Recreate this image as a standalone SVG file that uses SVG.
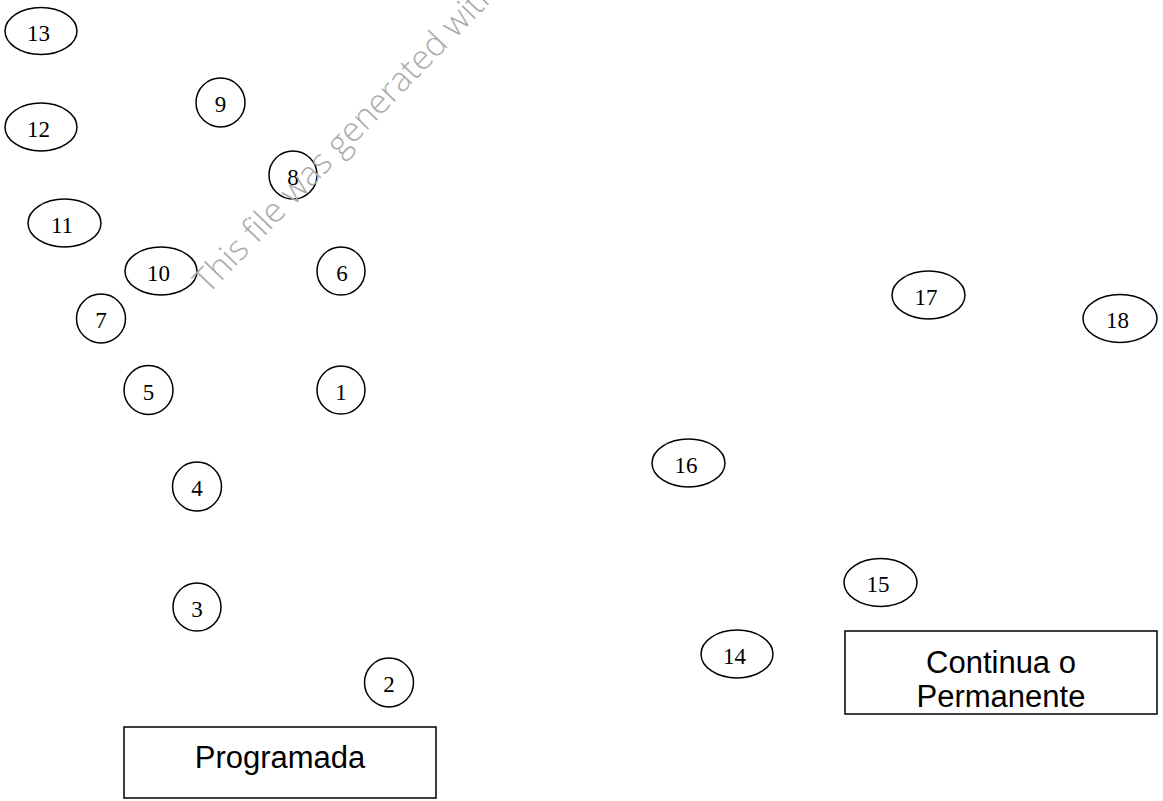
<svg xmlns="http://www.w3.org/2000/svg" width="1163" height="801" viewBox="0 0 1163 801">
<style>
.n{fill:#fff;stroke:#000;stroke-width:1.5}
.t{font-family:"Liberation Serif",serif;font-size:23px;fill:#000;text-anchor:middle}
.b{fill:#fff;stroke:#000;stroke-width:1.5}
.bt{font-family:"Liberation Sans",Arial,sans-serif;font-size:31px;fill:#000;text-anchor:middle}
.wm{font-family:"Open Sans","DejaVu Sans",sans-serif;font-size:34px;font-weight:300;fill:#ababab}
</style>
<rect width="1163" height="801" fill="#fff"/>
<g id="connectors"></g>
<g id="n13"><ellipse class="n" cx="41" cy="31" rx="36" ry="23.5"/><text class="t" x="38.5" y="40.5">13</text></g>
<g id="n12"><ellipse class="n" cx="41" cy="127" rx="36" ry="24"/><text class="t" x="38.5" y="136.5">12</text></g>
<g id="n11"><ellipse class="n" cx="64.5" cy="223" rx="36.5" ry="24"/><text class="t" x="62" y="232.5">11</text></g>
<g id="n10"><ellipse class="n" cx="161" cy="271" rx="36" ry="24"/><text class="t" x="158.5" y="280.5">10</text></g>
<g id="n9"><circle class="n" cx="220.5" cy="102.5" r="24.5"/><text class="t" x="220.5" y="112">9</text></g>
<g id="n8"><circle class="n" cx="293" cy="175" r="24"/><text class="t" x="293" y="184.5">8</text></g>
<g id="n6"><circle class="n" cx="341" cy="271" r="24"/><text class="t" x="342" y="280.5">6</text></g>
<g id="n7"><circle class="n" cx="101" cy="318.5" r="24.5"/><text class="t" x="101" y="328">7</text></g>
<g id="n5"><circle class="n" cx="148.5" cy="390" r="24.5"/><text class="t" x="148.5" y="399.5">5</text></g>
<g id="n1"><circle class="n" cx="341" cy="390" r="24"/><text class="t" x="341" y="399.5">1</text></g>
<g id="n4"><circle class="n" cx="197" cy="486.5" r="24.5"/><text class="t" x="197" y="496">4</text></g>
<g id="n3"><circle class="n" cx="197" cy="607" r="24"/><text class="t" x="197" y="616.5">3</text></g>
<g id="n2"><circle class="n" cx="389" cy="682.5" r="24.5"/><text class="t" x="389" y="692">2</text></g>
<g id="n17"><ellipse class="n" cx="928.5" cy="295" rx="36.5" ry="24"/><text class="t" x="926" y="304.5">17</text></g>
<g id="n18"><ellipse class="n" cx="1120" cy="318.5" rx="37" ry="24"/><text class="t" x="1117.5" y="328">18</text></g>
<g id="n16"><ellipse class="n" cx="688.5" cy="463" rx="36.5" ry="24"/><text class="t" x="686" y="472.5">16</text></g>
<g id="n15"><ellipse class="n" cx="880.5" cy="582.5" rx="36.5" ry="24"/><text class="t" x="878" y="592">15</text></g>
<g id="n14"><ellipse class="n" cx="737" cy="654" rx="36" ry="24"/><text class="t" x="734.5" y="663.5">14</text></g>
<g id="programada"><rect class="b" x="124" y="727" width="312" height="71"/><text class="bt" x="280" y="768">Programada</text></g>
<g id="continua"><rect class="b" x="845" y="631" width="312" height="83"/><text class="bt" x="1001" y="673">Continua o</text><text class="bt" x="1001" y="707">Permanente</text></g>
<text class="wm" transform="translate(208,295) rotate(-46)">This file was generated with a</text>
</svg>
